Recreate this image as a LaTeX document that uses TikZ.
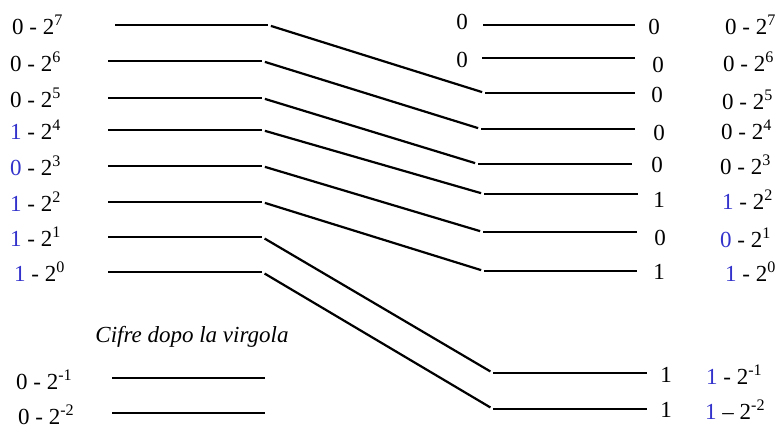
\documentclass[tikz,border=0pt]{standalone}
\usepackage{fontspec}
\setmainfont{Liberation Serif}
\usepackage{xcolor}
\usetikzlibrary{calc}
\definecolor{bitblue}{RGB}{51,51,204}
\newcommand{\pw}[2]{#1 - 2\textsuperscript{#2}}

\begin{document}
\begin{tikzpicture}[
  x=1pt, y=-1pt,
  wire/.style={line width=2.2pt, black},
  slant/.style={wire, shorten <=3pt, shorten >=3pt},
  lbl/.style={font=\fontsize{23}{26}\selectfont, inner sep=0pt, anchor=west},
  val/.style={font=\fontsize{23}{26}\selectfont, inner sep=0pt},
]
  \useasboundingbox (0,0) rectangle (781,429);

  % integer bits: left line, slanted shift, right line
  \foreach \r/\ly/\la/\lb/\ry/\ra/\rb in {
      7/25/115/268/93/485/635, 6/61/108/262/129/481/635,
      5/98/108/262/164/478/632, 4/130/108/262/194/484/638,
      3/166/108/262/232/483/637, 2/202/108/262/271/484/637,
      1/237/108/262/373/493/647, 0/272/108/262/409/493/647} {
    \coordinate (in\r a) at (\la,\ly);
    \coordinate (in\r b) at (\lb,\ly);
    \coordinate (out\r a) at (\ra,\ry);
    \coordinate (out\r b) at (\rb,\ry);
    \draw[wire] (in\r a) -- (in\r b);
    \draw[slant] (in\r b) -- (out\r a);
    \draw[wire] (out\r a) -- (out\r b);
  }

  % new zero bits on top, fraction bits below
  \coordinate (z7a) at (483,25);  \coordinate (z7b) at (635,25);
  \coordinate (z6a) at (482,58);  \coordinate (z6b) at (635,58);
  \coordinate (f1a) at (112,378); \coordinate (f1b) at (265,378);
  \coordinate (f2a) at (112,413); \coordinate (f2b) at (265,413);
  \draw[wire] (z7a) -- (z7b);
  \draw[wire] (z6a) -- (z6b);
  \draw[wire] (f1a) -- (f1b);
  \draw[wire] (f2a) -- (f2b);

  % left labels
  \node[lbl] (l7) at (12,25)  {\pw{0}{7}};
  \node[lbl] (l6) at (10,62)  {\pw{0}{6}};
  \node[lbl] (l5) at (10,98)  {\pw{0}{5}};
  \node[lbl] (l4) at (10,130) {\pw{\textcolor{bitblue}{1}}{4}};
  \node[lbl] (l3) at (10,166) {\pw{\textcolor{bitblue}{0}}{3}};
  \node[lbl] (l2) at (10,202) {\pw{\textcolor{bitblue}{1}}{2}};
  \node[lbl] (l1) at (10,237) {\pw{\textcolor{bitblue}{1}}{1}};
  \node[lbl] (l0) at (14,272) {\pw{\textcolor{bitblue}{1}}{0}};
  \node[val, font=\fontsize{23}{26}\selectfont\itshape] (frac) at (192,337) {Cifre dopo la virgola};
  \node[lbl] (lm1) at (16,380) {\pw{0}{-1}};
  \node[lbl] (lm2) at (18,415) {\pw{0}{-2}};

  % shifted-in zeros
  \node[val] (z7) at (462,22) {0};
  \node[val] (z6) at (462,60) {0};

  % result bits
  \node[val] (v7) at (654,27)  {0};
  \node[val] (v6) at (658,65)  {0};
  \node[val] (v5) at (657,95)  {0};
  \node[val] (v4) at (659,133) {0};
  \node[val] (v3) at (657,165) {0};
  \node[val] (v2) at (659,200) {1};
  \node[val] (v1) at (660,238) {0};
  \node[val] (v0) at (659,272) {1};
  \node[val] (vm1) at (666,375) {1};
  \node[val] (vm2) at (666,410) {1};

  % right labels
  \node[lbl] (r7) at (725,25)  {\pw{0}{7}};
  \node[lbl] (r6) at (723,62)  {\pw{0}{6}};
  \node[lbl] (r5) at (722,100) {\pw{0}{5}};
  \node[lbl] (r4) at (721,130) {\pw{0}{4}};
  \node[lbl] (r3) at (720,165) {\pw{0}{3}};
  \node[lbl] (r2) at (722,200) {\pw{\textcolor{bitblue}{1}}{2}};
  \node[lbl] (r1) at (720,238) {\pw{\textcolor{bitblue}{0}}{1}};
  \node[lbl] (r0) at (725,272) {\pw{\textcolor{bitblue}{1}}{0}};
  \node[lbl] (rm1) at (706,375) {\pw{\textcolor{bitblue}{1}}{-1}};
  \node[lbl] (rm2) at (705,410) {\textcolor{bitblue}{1} -- 2\textsuperscript{-2}};
\end{tikzpicture}
\end{document}
